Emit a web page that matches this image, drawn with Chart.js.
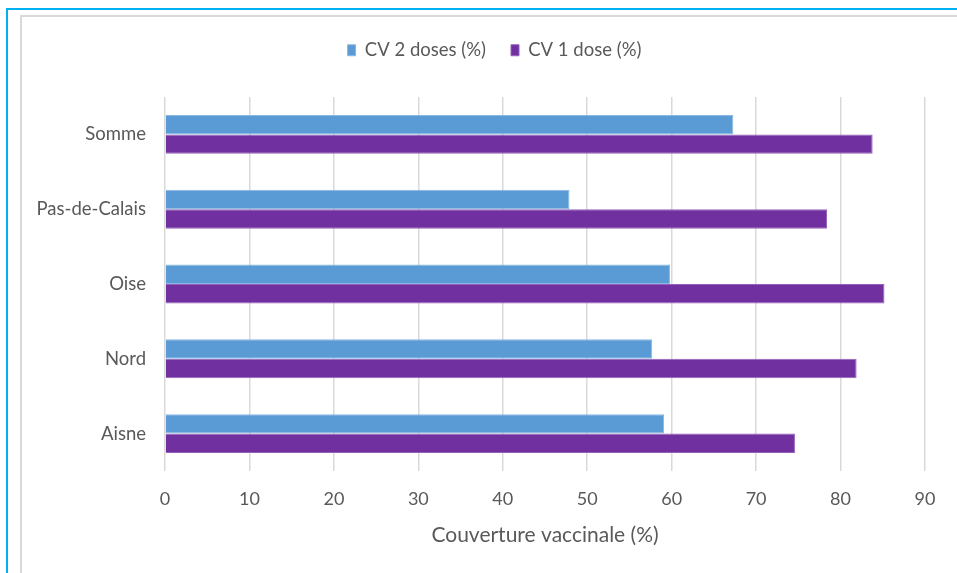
<!DOCTYPE html>
<html lang="fr">
<head>
<meta charset="utf-8">
<title>Couverture vaccinale par département</title>
<script src="https://cdn.jsdelivr.net/npm/chart.js@4/dist/chart.umd.min.js"></script>
<style>
  html, body { margin: 0; padding: 0; background: #ffffff; overflow: hidden; }
  #stage { position: relative; width: 957px; height: 573px; }
  .frame-outer { position: absolute; left: 6px; top: 8px; width: 1200px; height: 900px;
                 border-left: 2px solid #00B0F0; border-top: 2px solid #00B0F0; }
  .frame-inner { position: absolute; left: 20px; top: 15px; width: 1200px; height: 900px;
                 border-left: 2px solid #D9D9D9; border-top: 2px solid #D9D9D9; }
  canvas { position: absolute; left: 0; top: 0; }
</style>
</head>
<body>
<div id="stage">
  <div class="frame-outer"></div>
  <div class="frame-inner"></div>
  <canvas id="chart" width="957" height="573"></canvas>
</div>
<script>
// Départements (top to bottom)
const departements = ['Somme', 'Pas-de-Calais', 'Oise', 'Nord', 'Aisne'];

// Couverture vaccinale (%)
const cv2Doses = [67.3, 47.9, 59.8, 57.7, 59.1];
const cv1Dose  = [83.8, 78.4, 85.2, 81.9, 74.6];

const seriesLabels = ['CV 2 doses (%)', 'CV 1 dose (%)'];
const xTicks = [0, 10, 20, 30, 40, 50, 60, 70, 80, 90];
const xTitle = 'Couverture vaccinale (%)';

const FONT = 'Lato, "Open Sans", sans-serif';
const TEXT = '#595959';
const GRID = '#D9D9D9';

// Legend sits in a fixed band above the plot, centred on the whole frame
const legendBand = {
  id: 'legendBand',
  beforeInit(chart) {
    const lg = chart.legend;
    if (lg && !lg._bandPatched) {
      const fit = lg.fit;
      lg.fit = function () { fit.call(this); this.height = 81; };
      lg._bandPatched = true;
    }
  },
  afterLayout(chart) {
    const lg = chart.legend;
    if (lg) { lg.left += 32; lg.right += 32; }
  }
};

new Chart(document.getElementById('chart'), {
  type: 'bar',
  data: {
    labels: departements,
    datasets: [
      {
        label: seriesLabels[0],
        data: cv2Doses,
        backgroundColor: '#5B9BD5',
        borderColor: '#8AB8E2',
        borderWidth: 1,
        borderSkipped: 'start'
      },
      {
        label: seriesLabels[1],
        data: cv1Dose,
        backgroundColor: '#7030A0',
        borderColor: '#9460BC',
        borderWidth: 1,
        borderSkipped: 'start'
      }
    ]
  },
  options: {
    indexAxis: 'y',
    responsive: false,
    animation: false,
    devicePixelRatio: 1,
    layout: { padding: { top: 16, right: 32, left: 0, bottom: 0 } },
    categoryPercentage: 0.52,
    barPercentage: 1.0,
    scales: {
      x: {
        type: 'linear',
        min: 0,
        max: 90,
        afterBuildTicks(scale) { scale.ticks = xTicks.map(v => ({ value: v })); },
        afterFit(scale) { scale.height = 102; },
        border: { display: false },
        grid: { color: GRID, lineWidth: 1.5, drawTicks: false },
        ticks: { color: TEXT, font: { family: FONT, size: 18 }, padding: 17 },
        title: {
          display: true,
          text: xTitle,
          color: TEXT,
          font: { family: FONT, size: 21 },
          padding: { top: 0, bottom: 25 }
        }
      },
      y: {
        afterFit(scale) { scale.width = 165; },
        border: { display: false },
        grid: { display: false, drawTicks: false },
        ticks: { color: TEXT, font: { family: FONT, size: 18.5 }, padding: 19 }
      }
    },
    plugins: {
      legend: {
        position: 'top',
        align: 'center',
        labels: {
          color: TEXT,
          font: { family: FONT, size: 18.5 },
          boxWidth: 8,
          boxHeight: 11,
          padding: 25
        }
      },
      tooltip: { enabled: false }
    }
  },
  plugins: [legendBand]
});
</script>
</body>
</html>
